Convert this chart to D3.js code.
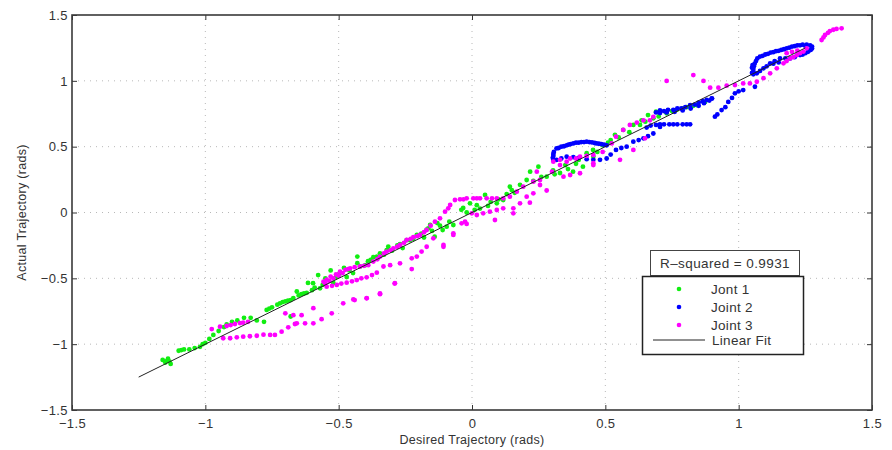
<!DOCTYPE html>
<html>
<head>
<meta charset="utf-8">
<script src="https://cdn.jsdelivr.net/npm/d3@7/dist/d3.min.js"></script>
<style>
  html, body { margin: 0; padding: 0; background: #fff; }
  svg { display: block; font-family: "Liberation Sans", Arial, Helvetica, sans-serif; }
</style>
</head>
<body>
<svg id="chart" width="892" height="450"></svg>
<script>
// ---------------- data ----------------
const xTicks = [-1.5, -1, -0.5, 0, 0.5, 1, 1.5];
const yTicks = [-1.5, -1, -0.5, 0, 0.5, 1, 1.5];
const xDomain = [-1.5, 1.5];
const yDomain = [-1.5, 1.5];
const xLabel = "Desired Trajectory (rads)";
const yLabel = "Actual Trajectory (rads)";
const seriesNames = ["Jont 1", "Joint 2", "Joint 3"];
const seriesColors = ["#11ee11", "#0000ff", "#ff00ff"];
const fitName = "Linear Fit";
const rSquaredText = "R\u2013squared = 0.9931";
const fitX = [-1.25, 1.25];
const fitY = [-1.25, 1.25];

const joint1 = [
[-1.16,-1.12],[-1.15,-1.14],[-1.14,-1.11],[-1.13,-1.15],[-1.15,-1.13],[-1.135,-1.13],
[-1.10,-1.05],[-1.08,-1.04],[-1.06,-1.04],[-1.04,-1.03],[-1.02,-1.02],[-1.00,-0.99],[-0.985,-0.96],[-0.97,-0.93],[-0.95,-0.90],[-0.93,-0.87],[-1.09,-1.045],[-1.01,-1.0],
[-0.90,-0.83],[-0.88,-0.82],[-0.855,-0.80],[-0.83,-0.80],[-0.807,-0.82],[-0.78,-0.83],[-0.92,-0.85],
[-0.77,-0.74],[-0.75,-0.72],[-0.73,-0.70],[-0.71,-0.68],[-0.69,-0.67],[-0.68,-0.665],[-0.67,-0.65],[-0.657,-0.60],[-0.68,-0.79],[-0.76,-0.73],[-0.72,-0.69],[-0.70,-0.675],
[-0.64,-0.62],[-0.62,-0.61],[-0.60,-0.59],[-0.57,-0.576],[-0.615,-0.535],[-0.52,-0.535],[-0.65,-0.63],[-0.63,-0.615],[-0.59,-0.57],[-0.56,-0.55],
[-0.596,-0.537],[-0.577,-0.475],[-0.55,-0.50],[-0.53,-0.44],[-0.50,-0.47],[-0.48,-0.42],[-0.47,-0.49],[-0.446,-0.46],[-0.43,-0.385],[-0.43,-0.335],[-0.40,-0.40],[-0.38,-0.36],[-0.357,-0.335],[-0.345,-0.31],[-0.32,-0.285],[-0.314,-0.26],[-0.28,-0.25],[-0.26,-0.27],[-0.245,-0.21],[-0.233,-0.21],[-0.207,-0.17],[-0.18,-0.19],[-0.17,-0.13],[-0.164,-0.12],[-0.157,-0.095],[-0.14,-0.184],[-0.13,-0.08],[-0.11,-0.133],[-0.095,-0.108],[-0.07,-0.095],
[-0.51,-0.49],[-0.49,-0.46],[-0.46,-0.44],[-0.42,-0.41],[-0.39,-0.37],[-0.37,-0.34],[-0.33,-0.32],[-0.30,-0.29],[-0.27,-0.24],[-0.22,-0.20],[-0.19,-0.16],[-0.15,-0.14],[-0.12,-0.10],[-0.085,-0.07],
[-0.04,0.02],[-0.033,0.034],[-0.0075,0.07],[0.018,0.056],[0.03,0.03],[0.049,0.133],[0.07,0.08],[0.093,0.07],[0.117,0.095],[0.142,0.196],[0.149,0.17],[0.18,0.21],[0.205,0.247],[0.218,0.31],[0.249,0.348],[0.28,0.272],[0.304,0.32],[0.33,0.30],[0.36,0.33],[0.379,0.31],[0.40,0.399],[0.416,0.348],[0.43,0.45],[0.455,0.424],[0.454,0.475],[0.49,0.51],[0.51,0.53],[0.536,0.59],[0.567,0.627],[0.605,0.665],[0.63,0.665],[0.636,0.70],[0.66,0.74],[0.68,0.715],[0.69,0.766],[0.73,0.753],[0.768,0.78],[0.805,0.80],[0.843,0.816],[0.874,0.84],
[-0.02,0.0],[0.01,0.02],[0.06,0.05],[0.10,0.10],[0.13,0.14],[0.16,0.15],[0.23,0.24],[0.26,0.27],[0.31,0.29],[0.35,0.36],[0.39,0.37],[0.47,0.46],[0.52,0.55],[0.55,0.57],[0.59,0.61],[0.65,0.69],[0.70,0.73],[0.75,0.77],[0.79,0.79],[0.83,0.81]
];

const joint2 = [
[0.305,0.40],[0.305,0.43],[0.307,0.46],[0.303,0.415],[0.305,0.445],
[0.317,0.487],[0.335,0.50],[0.355,0.51],[0.37,0.52],[0.39,0.53],[0.41,0.535],[0.43,0.538],[0.45,0.532],[0.467,0.525],[0.485,0.52],[0.505,0.51],
[0.325,0.49],[0.345,0.503],[0.362,0.515],[0.38,0.525],[0.40,0.53],[0.42,0.535],[0.44,0.535],[0.46,0.528],[0.476,0.522],[0.495,0.515],
[0.317,0.399],[0.335,0.41],[0.355,0.424],[0.38,0.42],[0.40,0.415],[0.43,0.405],[0.455,0.40],[0.48,0.40],[0.505,0.41],[0.52,0.44],[0.54,0.475],[0.56,0.49],[0.58,0.50],[0.605,0.538],[0.625,0.55],[0.643,0.563],[0.66,0.58],[0.68,0.60],[0.705,0.65],
[0.655,0.645],[0.67,0.66],[0.69,0.665],[0.705,0.67],[0.72,0.67],[0.74,0.67],[0.755,0.67],[0.77,0.67],[0.79,0.67],[0.805,0.67],[0.818,0.67],
[0.69,0.76],[0.705,0.775],[0.72,0.77],[0.735,0.78],[0.755,0.78],[0.77,0.79],[0.785,0.79],[0.80,0.80],[0.818,0.816],[0.835,0.82],[0.85,0.835],[0.865,0.845],[0.88,0.855],[0.899,0.867],[0.705,0.755],[0.73,0.76],[0.76,0.765],[0.79,0.775],[0.82,0.79],[0.85,0.81],[0.87,0.83],[0.89,0.85],[0.9,0.865],
[0.911,0.728],[0.92,0.745],[0.936,0.778],[0.95,0.80],[0.961,0.84],[0.975,0.87],[0.986,0.905],[1.0,0.92],[1.017,0.93],[1.061,0.955],
[1.055,1.05],[1.055,1.07],[1.055,1.09],[1.057,1.11],[1.06,1.13],[1.065,1.15],[1.05,1.06],[1.05,1.10],[1.052,1.12],
[1.08,1.184],[1.10,1.20],[1.12,1.215],[1.14,1.225],[1.16,1.235],[1.18,1.247],[1.20,1.26],[1.22,1.27],[1.24,1.275],[1.255,1.275],[1.268,1.27],[1.275,1.26],[1.275,1.245],[1.27,1.235],
[1.07,1.17],[1.09,1.19],[1.11,1.205],[1.13,1.218],[1.15,1.228],[1.17,1.24],[1.19,1.252],[1.21,1.263],[1.23,1.27],[1.25,1.265],
[1.068,1.057],[1.08,1.075],[1.093,1.095],[1.105,1.11],[1.118,1.133],[1.135,1.15],[1.155,1.17],[1.175,1.17],[1.193,1.17],[1.21,1.18],[1.23,1.196],[1.25,1.21],[1.268,1.234],[1.13,1.13],[1.15,1.14],[1.26,1.22],[1.24,1.20]
];

const joint3 = [
[-0.976,-0.885],[-0.945,-0.867],[-0.92,-0.862],[-0.905,-0.855],[-0.889,-0.847],[-0.87,-0.84],[-0.858,-0.837],[-0.84,-0.83],
[-0.933,-0.955],[-0.907,-0.955],[-0.882,-0.948],[-0.858,-0.943],[-0.833,-0.94],[-0.807,-0.936],[-0.782,-0.928],[-0.757,-0.93],[-0.739,-0.93],[-0.714,-0.905],[-0.689,-0.872],[-0.664,-0.847],
[-0.70,-0.766],[-0.67,-0.78],[-0.639,-0.78],[-0.657,-0.842],[-0.626,-0.842],[-0.595,-0.842],[-0.564,-0.81],[-0.595,-0.727],[-0.526,-0.766],[-0.483,-0.69],[-0.44,-0.665],[-0.395,-0.652],[-0.345,-0.62],[-0.29,-0.54],
[-0.557,-0.525],[-0.545,-0.51],[-0.53,-0.487],[-0.51,-0.47],[-0.495,-0.45],[-0.475,-0.435],[-0.457,-0.424],[-0.44,-0.415],[-0.42,-0.41],[-0.389,-0.40],[-0.37,-0.373],[-0.345,-0.335],[-0.32,-0.297],[-0.295,-0.272],[-0.27,-0.247],[-0.245,-0.209],[-0.22,-0.188],[-0.195,-0.17],[-0.17,-0.133],[-0.139,-0.07],[-0.12,-0.044],[-0.101,0.006],[-0.082,0.057],[-0.064,0.095],[-0.045,0.10],[-0.032,0.10],[-0.02,0.108],[0.005,0.108],[0.018,0.108],[0.03,0.108],[0.055,0.108],[0.075,0.108],[0.093,0.108],[0.117,0.108],[0.142,0.12],[0.168,0.158],[0.192,0.196],[0.23,0.234],[0.255,0.247],[0.30,0.31],[0.33,0.36],[0.355,0.386],[0.39,0.41],[0.405,0.424],[0.43,0.43],[0.455,0.437],[0.49,0.46],[0.524,0.525],[0.54,0.576],[0.567,0.627],[0.592,0.665],[0.618,0.683],[0.643,0.70],[0.667,0.70],[0.68,0.727],
[-0.55,-0.54],[-0.535,-0.52],[-0.52,-0.50],[-0.50,-0.48],[-0.485,-0.46],[-0.465,-0.43],[-0.405,-0.405],[-0.355,-0.355],[-0.33,-0.31],[-0.305,-0.285],[-0.28,-0.26],[-0.255,-0.23],[-0.23,-0.20],[-0.205,-0.18],[-0.18,-0.15],[-0.155,-0.10],
[-0.545,-0.563],[-0.507,-0.55],[-0.47,-0.533],[-0.432,-0.513],[-0.395,-0.492],[-0.357,-0.457],[-0.332,-0.41],[-0.307,-0.40],[-0.27,-0.386],[-0.226,-0.348],[-0.207,-0.335],[-0.189,-0.297],[-0.17,-0.26],[-0.145,-0.196],[-0.107,-0.26],[-0.07,-0.158],[-0.226,-0.43],[-0.289,-0.537],[-0.345,-0.614],[-0.395,-0.65],[-0.445,-0.66],[-0.107,-0.247],[-0.07,-0.17],
[-0.525,-0.557],[-0.49,-0.54],[-0.45,-0.523],[-0.415,-0.50],[-0.375,-0.475],
[-0.089,0.032],[-0.039,-0.082],[-0.026,-0.07],[-0.02,-0.087],[-0.001,-0.006],[0.018,-0.019],[0.042,-0.006],[0.067,0.006],[0.093,0.019],[0.117,0.032],[0.155,0.032],[0.18,0.07],[0.217,0.075],[0.086,-0.057],[0.155,-0.006],[0.205,0.12],[0.23,0.146],[0.255,0.209],[0.28,0.167],[0.343,0.272],[0.368,0.285],[0.405,0.298],[0.455,0.374],[0.455,0.36],[0.555,0.40],[0.605,0.475],[0.649,0.563],[0.243,0.31],[0.305,0.386],[0.33,0.40],[0.368,0.41],
[0.73,0.999],[0.83,1.044],[0.868,0.999],[0.893,0.948],[0.924,0.948],[0.955,0.963],[0.986,0.968],[1.017,0.98],[1.042,0.98],[1.068,0.993],[1.093,1.02],[1.118,1.057],[1.143,1.095],[1.168,1.133],[1.18,1.15],[1.193,1.17],[1.205,1.18],[1.218,1.196],[1.23,1.21],[1.243,1.222],[1.255,1.247],[1.18,1.21],[1.20,1.22],[1.22,1.23],
[1.311,1.31],[1.318,1.33],[1.324,1.348],[1.335,1.365],[1.342,1.378],[1.355,1.388],[1.367,1.394],[1.386,1.399]
];

// ---------------- drawing ----------------
const W = 892, H = 450;
const m = { left: 72, right: 20, top: 15, bottom: 40 };
const svg = d3.select("#chart");
svg.append("rect").attr("width", W).attr("height", H).attr("fill", "#fff");

const x = d3.scaleLinear().domain(xDomain).range([m.left, W - m.right]);
const y = d3.scaleLinear().domain(yDomain).range([H - m.bottom, m.top]);
const fmt = d3.format("~g");

// grid
const grid = svg.append("g");
grid.selectAll("line.gx").data(xTicks.slice(1, -1)).join("line")
  .attr("x1", d => x(d)).attr("x2", d => x(d))
  .attr("y1", y(yDomain[0])).attr("y2", y(yDomain[1]))
  .attr("stroke", "#b8b8b8").attr("stroke-width", 1).attr("stroke-dasharray", "1,5");
grid.selectAll("line.gy").data(yTicks.slice(1, -1)).join("line")
  .attr("y1", d => y(d)).attr("y2", d => y(d))
  .attr("x1", x(xDomain[0])).attr("x2", x(xDomain[1]))
  .attr("stroke", "#b8b8b8").attr("stroke-width", 1).attr("stroke-dasharray", "1,5");

// points
const series = [joint1, joint2, joint3];
series.forEach((s, i) => {
  svg.append("g").selectAll("circle").data(s).join("circle")
    .attr("cx", d => x(d[0])).attr("cy", d => y(d[1]))
    .attr("r", 2.4).attr("fill", seriesColors[i]);
});

// linear fit
svg.append("line")
  .attr("x1", x(fitX[0])).attr("y1", y(fitY[0]))
  .attr("x2", x(fitX[1])).attr("y2", y(fitY[1]))
  .attr("stroke", "#222").attr("stroke-width", 1);

// axes
const axStyle = g => {
  g.select(".domain").remove();
  g.selectAll(".tick line").attr("stroke", "#333");
  g.selectAll(".tick text").attr("fill", "#333").attr("font-size", 13)
    .attr("letter-spacing", 0.4)
    .attr("font-family", "'Liberation Sans', Arial, sans-serif");
};
svg.append("g").attr("transform", `translate(0,${y(yDomain[0])})`)
  .call(d3.axisBottom(x).tickValues(xTicks).tickFormat(fmt).tickSizeInner(-5).tickSizeOuter(0).tickPadding(9))
  .call(axStyle);
svg.append("g").attr("transform", `translate(0,${y(yDomain[1])})`)
  .call(d3.axisTop(x).tickValues(xTicks).tickFormat("").tickSizeInner(-5).tickSizeOuter(0))
  .call(axStyle);
svg.append("g").attr("transform", `translate(${x(xDomain[0])},0)`)
  .call(d3.axisLeft(y).tickValues(yTicks).tickFormat(fmt).tickSizeInner(-5).tickSizeOuter(0).tickPadding(4))
  .call(axStyle);
svg.append("g").attr("transform", `translate(${x(xDomain[1])},0)`)
  .call(d3.axisRight(y).tickValues(yTicks).tickFormat("").tickSizeInner(-5).tickSizeOuter(0))
  .call(axStyle);

// frame
svg.append("rect")
  .attr("x", x(xDomain[0])).attr("y", y(yDomain[1]))
  .attr("width", x(xDomain[1]) - x(xDomain[0]))
  .attr("height", y(yDomain[0]) - y(yDomain[1]))
  .attr("fill", "none").attr("stroke", "#3a3a3a").attr("stroke-width", 1.6);

// axis labels
svg.append("text").attr("x", (x(xDomain[0]) + x(xDomain[1])) / 2).attr("y", 444)
  .attr("text-anchor", "middle").attr("font-size", 12.5).attr("letter-spacing", 0.3)
  .attr("fill", "#333").text(xLabel);
svg.append("text").attr("transform", `translate(26,${(y(yDomain[0]) + y(yDomain[1])) / 2}) rotate(-90)`)
  .attr("text-anchor", "middle").attr("font-size", 12.5).attr("letter-spacing", 0.3)
  .attr("fill", "#333").text(yLabel);

// R-squared box
const rb = svg.append("g");
rb.append("rect").attr("x", 650.5).attr("y", 250.5).attr("width", 149).attr("height", 25)
  .attr("fill", "#fff").attr("stroke", "#444").attr("stroke-width", 1);
rb.append("text").attr("x", 725).attr("y", 267.5).attr("text-anchor", "middle")
  .attr("font-size", 13.5).attr("letter-spacing", 0.4).attr("fill", "#333").text(rSquaredText);

// legend
const lg = svg.append("g");
lg.append("rect").attr("x", 642.5).attr("y", 276.5).attr("width", 161).attr("height", 78)
  .attr("fill", "#fff").attr("stroke", "#222").attr("stroke-width", 1.5);
const rowsY = [289, 307, 325];
seriesNames.forEach((n, i) => {
  lg.append("circle").attr("cx", 679).attr("cy", rowsY[i]).attr("r", 2.3).attr("fill", seriesColors[i]);
  lg.append("text").attr("x", 711).attr("y", rowsY[i] + 5).attr("font-size", 13.5)
    .attr("letter-spacing", 0.3).attr("fill", "#333").text(n);
});
lg.append("line").attr("x1", 653).attr("x2", 705).attr("y1", 340).attr("y2", 340)
  .attr("stroke", "#222").attr("stroke-width", 1);
lg.append("text").attr("x", 712).attr("y", 345).attr("font-size", 13.5)
  .attr("letter-spacing", 0.3).attr("fill", "#333").text(fitName);
</script>
</body>
</html>
